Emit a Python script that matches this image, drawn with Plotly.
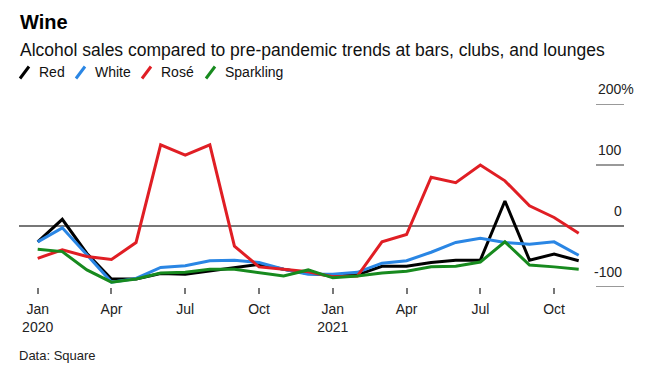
import plotly.graph_objects as go

months = ["Jan 2020", "Feb 2020", "Mar 2020", "Apr 2020", "May 2020", "Jun 2020",
          "Jul 2020", "Aug 2020", "Sep 2020", "Oct 2020", "Nov 2020", "Dec 2020",
          "Jan 2021", "Feb 2021", "Mar 2021", "Apr 2021", "May 2021", "Jun 2021",
          "Jul 2021", "Aug 2021", "Sep 2021", "Oct 2021", "Nov 2021"]

red = [-26, 11, -45, -87, -87, -78, -79, -74, -68, -63, -71, -78,
       -81, -80, -66, -66, -60, -56, -56, 41, -56, -46, -57]
white = [-26, -3, -47, -92, -86, -68, -65, -57, -56, -60, -71, -79,
         -79, -76, -61, -57, -43, -27, -20, -27, -30, -26, -48]
rose = [-53, -39, -50, -55, -27, 133, 116, 133, -33, -67, -71, -75,
        -83, -82, -26, -14, 80, 71, 100, 74, 33, 14, -12]
sparkling = [-38, -42, -72, -92, -87, -77, -76, -71, -71, -76, -82, -72,
             -85, -82, -77, -74, -67, -66, -59, -26, -64, -67, -71]

series_names = ["Red", "White", "Rosé", "Sparkling"]
series_values = [red, white, rose, sparkling]
series_colors = ["#000000", "#2a86e4", "#e01e24", "#178a1e"]

xtick_idx = [0, 3, 6, 9, 12, 15, 18, 21]
xtick_text = ["Jan<br>2020", "Apr", "Jul", "Oct", "Jan<br>2021", "Apr", "Jul", "Oct"]
ytick_vals = [200, 100, 0, -100]
ytick_text = ["200%", "100", "0", "-100"]

W, H = 646, 374
L, R, T, B = 19, 624, 104, 287

def px(x):
    return (x - L) / (R - L)

def py(y):
    return (B - y) / (B - T)

FONT = "Liberation Sans, Arial, sans-serif"
x_idx = list(range(len(months)))

fig = go.Figure()
for name, vals, col in zip(series_names, series_values, series_colors):
    fig.add_trace(go.Scatter(x=x_idx, y=vals, mode="lines", name=name,
                             line=dict(color=col, width=3),
                             showlegend=False, hoverinfo="skip"))

# x-range so that month 0 is at 37.7px and month 22 at 578.7px
ppm = (578.7 - 37.7) / 22
x0 = 0 - (37.7 - L) / ppm
x1 = 22 + (R - 578.7) / ppm

shapes = []
annotations = []
for v, t in zip(ytick_vals, ytick_text):
    if v != 0:
        shapes.append(dict(type="line", xref="paper", yref="y", x0=px(596), x1=1,
                           y0=v, y1=v, line=dict(color="#777777", width=1.5)))
    annotations.append(dict(x=1, y=v, xref="paper", yref="y", text=t,
                            showarrow=False, xanchor="right", yanchor="bottom",
                            yshift=5, xshift=(12 if t.endswith("%") else 0),
                            font=dict(family=FONT, size=14, color="#222222")))

# titles
annotations.append(dict(x=px(18), y=py(9), xref="paper", yref="paper", text="<b>Wine</b>",
                        showarrow=False, xanchor="left", yanchor="top",
                        font=dict(family=FONT, size=20, color="#000000")))
annotations.append(dict(x=px(18), y=py(37.5), xref="paper", yref="paper",
                        text="Alcohol sales compared to pre-pandemic trends at bars, clubs, and lounges",
                        showarrow=False, xanchor="left", yanchor="top",
                        font=dict(family=FONT, size=17.5, color="#111111")))
annotations.append(dict(x=px(17), y=py(346), xref="paper", yref="paper", text="Data: Square",
                        showarrow=False, xanchor="left", yanchor="top",
                        font=dict(family=FONT, size=13, color="#222222")))

# manual legend
leg_x = [20, 76, 142, 206]
for name, col, lx in zip(series_names, series_colors, leg_x):
    shapes.append(dict(type="line", xref="paper", yref="paper",
                       x0=px(lx), x1=px(lx + 9), y0=py(78.5), y1=py(66.5),
                       line=dict(color=col, width=3)))
    annotations.append(dict(x=px(lx + 17), y=py(72.5), xref="paper", yref="paper", text=name,
                            showarrow=False, xanchor="left", yanchor="middle",
                            font=dict(family=FONT, size=14, color="#111111")))

fig.update_layout(
    width=W, height=H,
    margin=dict(l=L, r=W - R, t=T, b=H - B, pad=0),
    paper_bgcolor="white", plot_bgcolor="white",
    shapes=shapes, annotations=annotations,
    xaxis=dict(range=[x0, x1], tickmode="array", tickvals=xtick_idx, ticktext=xtick_text,
               ticks="outside", ticklen=6, tickwidth=1.5, tickcolor="#777777",
               ticklabelstandoff=3,
               showgrid=False, zeroline=False, showline=False,
               tickfont=dict(family=FONT, size=14, color="#222222")),
    yaxis=dict(range=[-100, 200], showticklabels=False, showgrid=False,
               zeroline=True, zerolinecolor="#777777", zerolinewidth=1.5,
               showline=False, ticks=""),
    showlegend=False,
)

fig.write_html("out.html", config={"displayModeBar": False},
               post_script="document.body.style.margin='0';document.body.style.padding='0';")
